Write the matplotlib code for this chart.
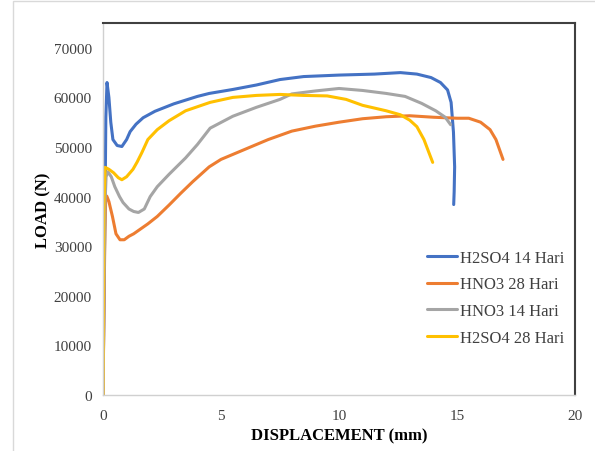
import numpy as np
import matplotlib
matplotlib.use("Agg")
import matplotlib.pyplot as plt
from matplotlib.patches import Rectangle

plt.rcParams['font.family'] = ['Liberation Serif', 'DejaVu Serif']

# H2SO4 14 Hari
blue_x = [0.0, 0.1, 0.12, 0.17, 0.25, 0.33, 0.42, 0.6, 0.8, 1.0, 1.15, 1.4, 1.7, 2.2, 3.0, 4.0, 4.5,
          5.5, 6.5, 7.5, 8.5, 10.0, 11.5, 12.6, 13.3, 13.9, 14.3, 14.6, 14.75, 14.85, 14.9, 14.88, 14.86]
blue_y = [0, 45000, 56000, 63000, 60000, 55000, 51500, 50300, 50100, 51500, 53100, 54600, 55900, 57200,
          58700, 60200, 60800, 61600, 62500, 63600, 64200, 64500, 64700, 65000, 64700, 64000, 63000,
          61500, 59000, 53000, 46000, 41000, 38400]

# HNO3 28 Hari
orange_x = [0.0, 0.08, 0.11, 0.16, 0.25, 0.4, 0.55, 0.72, 0.9, 1.1, 1.3, 1.57, 1.9, 2.3, 2.8, 3.3, 3.8,
            4.5, 5.0, 6.0, 7.0, 8.0, 9.0, 10.0, 11.0, 12.0, 13.0, 14.0, 15.0, 15.5, 16.0, 16.4, 16.65,
            16.8, 16.95]
orange_y = [0, 33000, 39000, 40100, 39000, 36000, 32500, 31300, 31300, 32000, 32500, 33400, 34500,
            36000, 38300, 40700, 43000, 46000, 47500, 49500, 51500, 53200, 54200, 55000, 55700, 56100,
            56300, 56000, 55800, 55800, 55000, 53500, 51500, 49500, 47500]

# HNO3 14 Hari
gray_x = [0.0, 0.08, 0.13, 0.21, 0.35, 0.5, 0.7, 0.85, 1.1, 1.3, 1.5, 1.75, 2.0, 2.3, 2.8, 3.5, 4.0,
          4.54, 5.5, 6.5, 7.5, 8.0, 9.0, 10.0, 11.0, 12.0, 12.8, 13.5, 14.1, 14.5, 14.73]
gray_y = [0, 38000, 44000, 45000, 44000, 42000, 40000, 38800, 37500, 37000, 36800, 37500, 40000,
          42000, 44500, 47800, 50500, 53800, 56200, 58000, 59600, 60700, 61300, 61800, 61400, 60800,
          60200, 58800, 57300, 56000, 54500]

# H2SO4 28 Hari
yellow_x = [0.0, 0.04, 0.09, 0.25, 0.45, 0.65, 0.8, 1.0, 1.27, 1.45, 1.65, 1.9, 2.3, 2.8, 3.5, 4.54,
            5.5, 6.5, 7.5, 8.5, 9.5, 10.3, 11.0, 12.0, 12.6, 13.0, 13.3, 13.6, 13.8, 13.97]
yellow_y = [0, 38000, 45900, 45500, 44800, 43800, 43400, 44000, 45500, 47000, 48900, 51500, 53500,
            55300, 57300, 59000, 60000, 60400, 60600, 60400, 60300, 59600, 58400, 57300, 56500, 55400,
            54100, 51500, 49000, 46900]

series = [
    ("H2SO4 14 Hari", blue_x, blue_y, "#4472C4"),
    ("HNO3 28 Hari", orange_x, orange_y, "#ED7D31"),
    ("HNO3 14 Hari", gray_x, gray_y, "#A5A5A5"),
    ("H2SO4 28 Hari", yellow_x, yellow_y, "#FFC000"),
]

fig = plt.figure(figsize=(5.95, 4.52), dpi=100)
ax = fig.add_axes([103 / 595, 56 / 452, 472 / 595, 372 / 452])

for name, xs, ys, col in series:
    ax.plot(xs, ys, color=col, lw=2.2, label=name, solid_joinstyle='round', solid_capstyle='round')

ax.set_xlim(0, 20)
ax.set_ylim(0, 75000)
ax.set_xticks(np.arange(0, 21, 5))
ax.set_yticks(np.arange(0, 70001, 10000))
ax.tick_params(length=0, labelsize=11, colors='#404040', pad=8)
ax.tick_params(axis='x', pad=10)

for s in ['left', 'bottom']:
    ax.spines[s].set_color('#D0D0D0')
    ax.spines[s].set_linewidth(1.0)
for s in ['top', 'right']:
    ax.spines[s].set_color('#404040')
    ax.spines[s].set_linewidth(1.5)

ax.set_xlabel("DISPLACEMENT (mm)", fontsize=12, fontweight='bold', labelpad=4)
ax.set_ylabel("LOAD (N)", fontsize=12, fontweight='bold', labelpad=2)

leg = ax.legend(loc='lower right', bbox_to_anchor=(1.01, 0.091), frameon=False, fontsize=12,
                handlelength=1.8, handletextpad=0.2, labelspacing=0.65, labelcolor='#404040')

fig.patches.append(Rectangle((13 / 595, -0.1), 1.2, (452 - 2) / 452 + 0.1, transform=fig.transFigure,
                             fill=False, edgecolor='#D9D9D9', lw=1.0))

fig.savefig("out.png", dpi=100)
